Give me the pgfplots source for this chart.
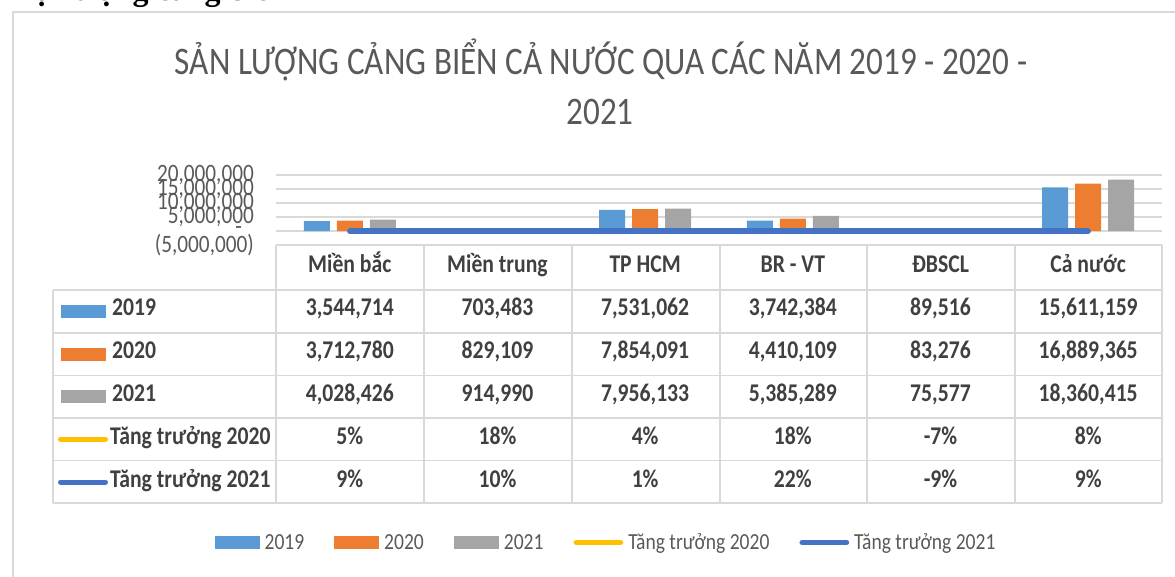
\documentclass[border=0pt]{standalone}
\usepackage{fontspec}
\setmainfont{Carlito}[FakeStretch=0.85]
\newfontfamily\docfont{Liberation Serif}
\usepackage{pgfplots}
\usepackage{pgfplotstable}
\pgfplotsset{compat=1.18}
\definecolor{c19}{HTML}{5B9BD5}
\definecolor{c20}{HTML}{ED7D31}
\definecolor{c21}{HTML}{A5A5A5}
\definecolor{cy}{HTML}{FFC000}
\definecolor{cb}{HTML}{4472C4}
\definecolor{gridc}{HTML}{D9D9D9}
\definecolor{txt}{HTML}{404040}
\definecolor{ttl}{HTML}{595959}

\pgfplotstableread{
x y19 y20 y21 g20 g21
0 3544714 3712780 4028426 0.05 0.09
1 703483 829109 914990 0.18 0.10
2 7531062 7854091 7956133 0.04 0.01
3 3742384 4410109 5385289 0.18 0.22
4 89516 83276 75577 -0.07 -0.09
5 15611159 16889365 18360415 0.08 0.09
}\datatable

\begin{document}
\begin{tikzpicture}
\path[use as bounding box] (0pt,0pt) rectangle (1175pt,-577pt);

\begin{axis}[
  at={(276pt,-245pt)}, anchor=south west,
  width=886pt, height=70pt, scale only axis,
  xmin=-0.5, xmax=5.5, ymin=-5000000, ymax=20000000,
  axis line style={draw=none},
  xtick=\empty,
  ytick={-5000000,0,5000000,10000000,15000000,20000000},
  yticklabels={{(5,000,000)},{-\hspace*{12pt}},{5,000,000},{10,000,000},{15,000,000},{20,000,000}},
  scaled y ticks=false,
  major tick length=0pt,
  ymajorgrids, major grid style={draw=gridc, line width=1.6pt},
  yticklabel style={font=\fontsize{25}{25}\selectfont, text=ttl, anchor=east, inner sep=0pt, xshift=-22pt},
  clip=false,
  legend columns=-1,
  legend style={draw=none, fill=none, at={(axis description cs:0.3725,-4.25)}, anchor=center,
    font=\fontsize{23}{23}\selectfont, text=ttl,
    /tikz/every odd column/.append style={column sep=3pt},
    /tikz/every even column/.append style={column sep=28pt}},
]
\addplot[ybar, bar width=26pt, bar shift=-33pt, fill=c19, draw=none,
  legend image code/.code={\fill[c19] (0pt,-6.5pt) rectangle (45pt,6.5pt);}]
  table[x=x,y=y19]{\datatable};
\addlegendentry{2019}
\addplot[ybar, bar width=26pt, bar shift=0pt, fill=c20, draw=none,
  legend image code/.code={\fill[c20] (0pt,-6.5pt) rectangle (45pt,6.5pt);}]
  table[x=x,y=y20]{\datatable};
\addlegendentry{2020}
\addplot[ybar, bar width=26pt, bar shift=33pt, fill=c21, draw=none,
  legend image code/.code={\fill[c21] (0pt,-6.5pt) rectangle (45pt,6.5pt);}]
  table[x=x,y=y21]{\datatable};
\addlegendentry{2021}
\addplot[cy, line width=5.5pt, line cap=round, no marks, sharp plot,
  legend image code/.code={\draw[cy, line width=5.5pt, line cap=round] (2.75pt,0pt) -- (47pt,0pt);}]
  table[x=x,y=g20]{\datatable};
\addlegendentry{Tăng trưởng 2020}
\addplot[cb, line width=5.5pt, line cap=round, no marks, sharp plot,
  legend image code/.code={\draw[cb, line width=5.5pt, line cap=round] (2.75pt,0pt) -- (47pt,0pt);}]
  table[x=x,y=g21]{\datatable};
\addlegendentry{Tăng trưởng 2021}
\end{axis}

\begin{scope}[x=1pt,y=-1pt,
  th/.style={anchor=base, inner sep=0pt, text=txt, font=\fontsize{25.5}{25.5}\selectfont\bfseries},
  tl/.style={anchor=base west, inner sep=0pt, text=txt, font=\fontsize{25.5}{25.5}\selectfont\bfseries}]
% frame
\draw[gridc, line width=2pt] (13,577) -- (13,12) -- (1175,12);
% cut-off text above chart
\node[anchor=base west, inner sep=0pt, font=\docfont\bfseries\fontsize{32}{32}\selectfont] at (0,0.5) {Hiện trạng cảng biển};
% title
\node[anchor=base, inner sep=0pt, text=ttl, font=\fontsize{39}{39}\selectfont] at (601,75) {SẢN LƯỢNG CẢNG BIỂN CẢ NƯỚC QUA CÁC NĂM 2019 - 2020 -};
\node[anchor=base, inner sep=0pt, text=ttl, font=\fontsize{39}{39}\selectfont] at (600,125) {2021};
% table grid
\foreach \yy in {290,333,375.5,418,460.5,503} \draw[gridc, line width=1.8pt] (53,\yy) -- (1162,\yy);
\draw[gridc, line width=1.8pt] (53,290) -- (53,503);
\foreach \xx in {276,424,572,720,867,1015,1162} \draw[gridc, line width=1.8pt] (\xx,245) -- (\xx,503);
% header
\foreach \v [count=\i from 0] in {Miền bắc,Miền trung,TP HCM,BR - VT,ĐBSCL,Cả nước}
  \node[th] at ({349.8+147.67*\i},273) {\v};
% rows
\foreach \v [count=\i from 0] in {{3,544,714},{703,483},{7,531,062},{3,742,384},{89,516},{15,611,159}}
  \node[th] at ({349.8+147.67*\i},316) {\v};
\foreach \v [count=\i from 0] in {{3,712,780},{829,109},{7,854,091},{4,410,109},{83,276},{16,889,365}}
  \node[th] at ({349.8+147.67*\i},358.5) {\v};
\foreach \v [count=\i from 0] in {{4,028,426},{914,990},{7,956,133},{5,385,289},{75,577},{18,360,415}}
  \node[th] at ({349.8+147.67*\i},401) {\v};
\foreach \v [count=\i from 0] in {5,18,4,18,-7,8}
  \node[th] at ({349.8+147.67*\i},444) {\v\%};
\foreach \v [count=\i from 0] in {9,10,1,22,-9,9}
  \node[th] at ({349.8+147.67*\i},487) {\v\%};
% row labels with keys
\fill[c19] (61,305) rectangle (106,318);
\node[tl] at (112,316) {2019};
\fill[c20] (61,347.5) rectangle (106,360.5);
\node[tl] at (112,358.5) {2020};
\fill[c21] (61,390) rectangle (106,403);
\node[tl] at (112,401) {2021};
\draw[cy, line width=5pt, line cap=round] (60.5,439) -- (105.5,439);
\node[tl] at (110,444) {Tăng trưởng 2020};
\draw[cb, line width=5pt, line cap=round] (60.5,482) -- (105.5,482);
\node[tl] at (110,487) {Tăng trưởng 2021};
\end{scope}
\end{tikzpicture}
\end{document}
